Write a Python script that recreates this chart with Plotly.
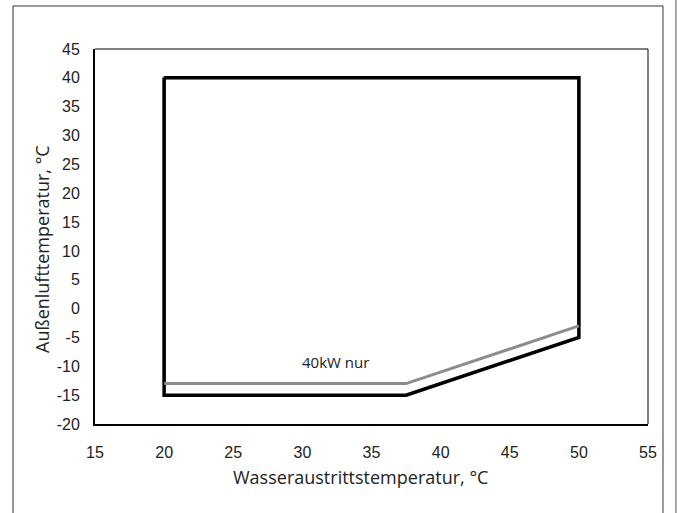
import plotly.graph_objects as go

# Envelope data (°C)
black_x = [20, 50, 50, 37.5, 20, 20]
black_y = [40, 40, -5, -15, -15, 40]
gray_full_x = [20, 20, 50, 50]
gray_full_y = [-13, 40, 40, -3]
gray_x = [20, 37.5, 50]
gray_y = [-13, -13, -3]
label_text = "40kW nur"
label_pos = (32.4, -9.3)

x_ticks = [15, 20, 25, 30, 35, 40, 45, 50, 55]
y_ticks = [-20, -15, -10, -5, 0, 5, 10, 15, 20, 25, 30, 35, 40, 45]
x_ticktext = [str(v) for v in x_ticks]
y_ticktext = [str(v) for v in y_ticks]

fig = go.Figure()
fig.add_trace(go.Scatter(x=gray_full_x, y=gray_full_y, mode="lines",
                         line=dict(color="#8c8c8c", width=3), hoverinfo="skip"))
fig.add_trace(go.Scatter(x=black_x, y=black_y, mode="lines",
                         line=dict(color="black", width=3.5), hoverinfo="skip"))
fig.add_trace(go.Scatter(x=gray_x, y=gray_y, mode="lines",
                         line=dict(color="#8c8c8c", width=3), hoverinfo="skip"))

tickfont = dict(family="Liberation Sans, Arial", size=16, color="#222")
fig.update_xaxes(range=[15, 55], tickvals=x_ticks, ticktext=x_ticktext, showgrid=False,
                 zeroline=False, showline=True, linecolor="black", linewidth=2, mirror=False,
                 ticks="", tickfont=tickfont, ticklabelstandoff=13)
fig.update_yaxes(range=[-20, 45], tickvals=y_ticks, ticktext=y_ticktext, showgrid=False,
                 zeroline=False, showline=True, linecolor="black", linewidth=2, mirror=False,
                 ticks="", tickfont=tickfont, ticklabelstandoff=10)

shapes = [
    dict(type="line", xref="paper", yref="paper", x0=0, x1=1, y0=1, y1=1,
         line=dict(color="black", width=1)),
    dict(type="line", xref="paper", yref="paper", x0=1, x1=1, y0=0, y1=1,
         line=dict(color="black", width=1)),
    dict(type="rect", xref="paper", yref="paper", x0=-0.1483, x1=1.0271, y0=-0.30, y1=1.1147,
         line=dict(color="#333", width=1)),
    dict(type="line", xref="paper", yref="paper", x0=1.0506, x1=1.0506, y0=-0.30, y1=1.2,
         line=dict(color="#555", width=1)),
]

titlefont = dict(family="Open Sans, Liberation Sans", size=18, color="#222")
annotations = [
    dict(text="Wasseraustrittstemperatur, °C", xref="paper", yref="paper",
         x=(360 - 95) / 553, y=(424 - 477) / 375, showarrow=False, font=titlefont,
         xanchor="center", yanchor="middle"),
    dict(text="Außenlufttemperatur, °C", xref="paper", yref="paper",
         x=(42 - 95) / 553, y=(424 - 249) / 375, showarrow=False, font=titlefont,
         textangle=-90, xanchor="center", yanchor="middle"),
    dict(text=label_text, x=label_pos[0], y=label_pos[1], xref="x", yref="y",
         showarrow=False, font=dict(family="Open Sans, Noto Sans", size=15, color="#222")),
]

fig.update_layout(width=678, height=513, margin=dict(l=95, r=30, t=49, b=89),
                  plot_bgcolor="white", paper_bgcolor="white", showlegend=False,
                  shapes=shapes, annotations=annotations)

fig.write_html("out.html")
